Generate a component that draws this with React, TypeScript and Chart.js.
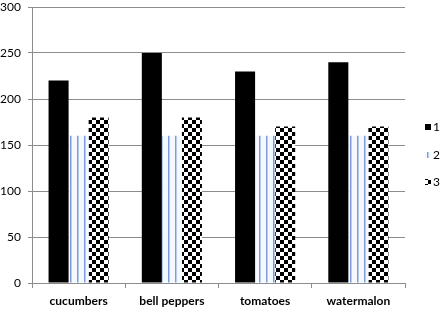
import React, { useEffect, useRef } from "react";
import { Chart, registerables } from "chart.js";

Chart.register(...registerables);

const categories = ["cucumbers", "bell peppers", "tomatoes", "watermalon"];
const seriesNames = ["1", "2", "3"];
const series1 = [220, 250, 230, 240];
const series2 = [160, 160, 160, 160];
const series3 = [180, 180, 170, 170];
const yTicks = [0, 50, 100, 150, 200, 250, 300];

function makeStripe(): CanvasPattern | string {
  const c = document.createElement("canvas");
  c.width = 7;
  c.height = 7;
  const g = c.getContext("2d");
  if (!g) return "#7f9fd6";
  g.fillStyle = "#f4f9ff";
  g.fillRect(0, 0, 7, 7);
  g.fillStyle = "#7f9cd8";
  g.fillRect(0, 0, 1.5, 7);
  return g.createPattern(c, "repeat") || "#7f9fd6";
}

function makeChecker(): CanvasPattern | string {
  const c = document.createElement("canvas");
  c.width = 8;
  c.height = 8;
  const g = c.getContext("2d");
  if (!g) return "#000";
  g.fillStyle = "#ffffff";
  g.fillRect(0, 0, 8, 8);
  g.fillStyle = "#000000";
  g.fillRect(0, 0, 4, 4);
  g.fillRect(4, 4, 4, 4);
  return g.createPattern(c, "repeat") || "#000";
}

export default function App() {
  const ref = useRef<HTMLCanvasElement | null>(null);

  useEffect(() => {
    document.body.style.margin = "0";
    if (!ref.current) return;
    const stripe = makeStripe();
    const checker = makeChecker();
    const fills = ["#000000", stripe, checker];

    const legendPlugin = {
      id: "customLegend",
      afterDraw(chart: any) {
        const ctx = chart.ctx;
        const x = 425;
        const ys = [127, 155, 182];
        ctx.save();
        ctx.font = "12px Lato, 'Open Sans', sans-serif";
        ctx.textBaseline = "middle";
        seriesNames.forEach((name, i) => {
          ctx.fillStyle = fills[i];
          ctx.fillRect(x, ys[i] - 3, 6, 6);
          ctx.fillStyle = "#000";
          ctx.fillText(name, x + 8, ys[i]);
        });
        ctx.restore();
      },
    };

    const chart = new Chart(ref.current, {
      type: "bar",
      data: {
        labels: categories,
        datasets: [
          { label: seriesNames[0], data: series1, backgroundColor: fills[0] as any, borderWidth: 0 },
          { label: seriesNames[1], data: series2, backgroundColor: fills[1] as any, borderWidth: 0 },
          { label: seriesNames[2], data: series3, backgroundColor: fills[2] as any, borderWidth: 0 },
        ],
      },
      options: {
        animation: false,
        responsive: false,
        maintainAspectRatio: false,
        layout: { padding: { top: 7, right: 39, left: 0, bottom: 0 } },
        datasets: { bar: { categoryPercentage: 0.645, barPercentage: 1 } },
        plugins: { legend: { display: false }, tooltip: { enabled: false } },
        scales: {
          x: {
            offset: true,
            grid: {
              offset: true,
              drawOnChartArea: false,
              drawTicks: true,
              tickLength: 5,
              color: "#8c8c8c",
            },
            border: { color: "#8c8c8c" },
            ticks: {
              color: "#000",
              padding: 6,
              font: { family: "Lato, 'Open Sans', sans-serif", size: 12, weight: "bold" },
              maxRotation: 0,
            },
            afterFit(scale: any) {
              scale.height = 29;
              scale.paddingLeft = 0;
              scale.paddingRight = 0;
            },
          },
          y: {
            min: 0,
            max: 300,
            afterBuildTicks(scale: any) {
              scale.ticks = yTicks.map((v) => ({ value: v }));
            },
            grid: { color: "#8c8c8c", tickLength: 4, drawTicks: true },
            border: { color: "#8c8c8c" },
            ticks: {
              color: "#000",
              padding: 7,
              font: { family: "Lato, 'Open Sans', sans-serif", size: 12 },
            },
            afterFit(scale: any) {
              scale.width = 32;
              scale.paddingTop = 0;
              scale.paddingBottom = 0;
            },
          },
        },
      },
      plugins: [legendPlugin],
    } as any);
    return () => chart.destroy();
  }, []);

  return (
    <div style={{ width: 444, height: 312, background: "#fff" }}>
      <canvas ref={ref} width={444} height={312} style={{ display: "block" }} />
    </div>
  );
}
